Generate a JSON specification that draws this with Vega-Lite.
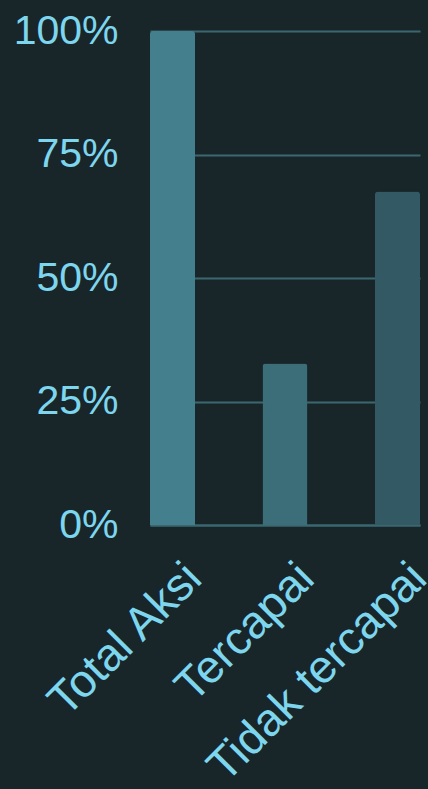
{
  "$schema": "https://vega.github.io/schema/vega-lite/v6.json",
  "width": 270,
  "height": 494,
  "autosize": {"type": "none"},
  "padding": {"left": 150, "top": 31, "right": 8, "bottom": 264},
  "background": "#18262a",
  "config": {
    "view": {"stroke": null},
    "font": "Liberation Sans"
  },
  "data": {
    "values": [
      {"kategori": "Total Aksi", "nilai": 1.0, "warna": "#437f8c"},
      {"kategori": "Tercapai", "nilai": 0.327, "warna": "#3b6e78"},
      {"kategori": "Tidak tercapai", "nilai": 0.675, "warna": "#335a64"}
    ]
  },
  "mark": {"type": "bar", "cornerRadiusTopLeft": 3, "cornerRadiusTopRight": 3},
  "encoding": {
    "x": {
      "field": "kategori",
      "type": "nominal",
      "sort": null,
      "scale": {"paddingInner": 0.6, "paddingOuter": 0},
      "axis": {
        "title": null,
        "labelAngle": -45,
        "labelAlign": "right",
        "labelBaseline": "top",
        "labelFontSize": 46,
        "labelColor": "#7dd6ee",
        "labelPadding": 30,
        "labelOffset": 6,
        "labelLimit": 0,
        "ticks": false,
        "domainColor": "#3b6870",
        "domainWidth": 2,
        "labelOverlap": false
      }
    },
    "y": {
      "field": "nilai",
      "type": "quantitative",
      "scale": {"domain": [0, 1]},
      "axis": {
        "title": null,
        "format": ".0%",
        "values": [0, 0.25, 0.5, 0.75, 1],
        "labelFontSize": 41,
        "labelColor": "#7dd6ee",
        "labelPadding": 32,
        "ticks": false,
        "domain": false,
        "gridColor": "#3b6870",
        "gridWidth": 2
      }
    },
    "color": {"field": "warna", "type": "nominal", "scale": null}
  }
}
